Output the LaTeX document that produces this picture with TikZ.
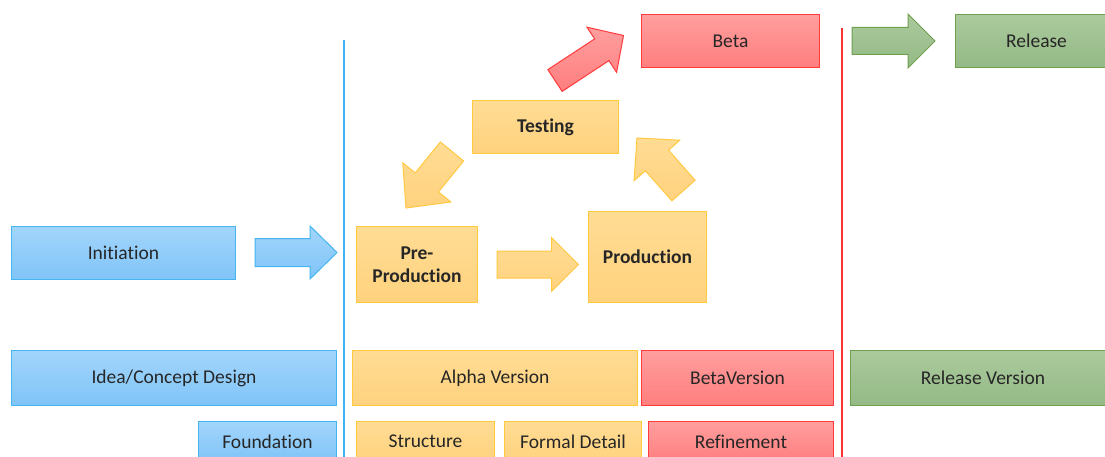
\documentclass[tikz,border=0pt]{standalone}
\usepackage{fontspec}
\setmainfont{Carlito}[Ligatures=NoCommon]
\usetikzlibrary{calc}

\definecolor{bluetop}{HTML}{A2D5FB}
\definecolor{bluebot}{HTML}{80C4F8}
\definecolor{blueedge}{HTML}{45B5F0}
\definecolor{yeltop}{HTML}{FFDC94}
\definecolor{yelbot}{HTML}{FFD27E}
\definecolor{yeledge}{HTML}{FFC940}
\definecolor{redtop}{HTML}{FF9E9E}
\definecolor{redbot}{HTML}{FF7E7E}
\definecolor{rededge}{HTML}{FF3B3B}
\definecolor{grntop}{HTML}{ABCA9D}
\definecolor{grnbot}{HTML}{94B986}
\definecolor{grnedge}{HTML}{6FA04E}
\definecolor{ink}{HTML}{262626}
\definecolor{bluerule}{HTML}{3BB4F2}
\definecolor{redrule}{HTML}{FF3030}

% block arrow: style, tail, tip, shaft half-width, head half-width, head length
\newcommand{\blockarrow}[6]{%
  \coordinate (#2-#3-hb) at ($(#3)!#6!(#2)$);
  \draw[#1] ($(#2)!#4!90:(#3)$)
    -- ($(#2-#3-hb)!#4!90:(#3)$)
    -- ($(#2-#3-hb)!#5!90:(#3)$)
    -- (#3)
    -- ($(#2-#3-hb)!#5!-90:(#3)$)
    -- ($(#2-#3-hb)!#4!-90:(#3)$)
    -- ($(#2)!#4!-90:(#3)$) -- cycle;}

\tikzset{
  phase/.style={rectangle, line width=1pt, anchor=north west, inner sep=0pt,
    text=ink, font=\fontsize{19.5}{23}\selectfont, align=center},
  bluebox/.style={phase, draw=blueedge, top color=bluetop, bottom color=bluebot},
  yelbox/.style={phase, draw=yeledge, top color=yeltop, bottom color=yelbot},
  redbox/.style={phase, draw=rededge, top color=redtop, bottom color=redbot},
  grnbox/.style={phase, draw=grnedge, top color=grntop, bottom color=grnbot},
  keybox/.style={font=\fontsize{19.5}{23}\selectfont\bfseries},
  bluearrow/.style={line width=1pt, draw=blueedge, top color=bluetop, bottom color=bluebot, line join=miter},
  yelarrow/.style={line width=1pt, draw=yeledge, top color=yeltop, bottom color=yelbot, line join=miter},
  redarrow/.style={line width=1pt, draw=rededge, top color=redtop, bottom color=redbot, line join=miter},
  grnarrow/.style={line width=1pt, draw=grnedge, top color=grntop, bottom color=grnbot, line join=miter},
}

\begin{document}
\begin{tikzpicture}[x=1pt,y=-1pt]
\useasboundingbox (0,0) rectangle (1105,457);
\clip (0,0) rectangle (1105,457);
\fill[white] (0,0) rectangle (1105,457);

% phase dividers
\coordinate (bl-top) at (344,40);
\coordinate (bl-bot) at (344,460);
\coordinate (rl-top) at (842,28);
\coordinate (rl-bot) at (842,460);
\draw[bluerule, line width=2pt] (bl-top) -- (bl-bot);
\draw[redrule, line width=2.2pt] (rl-top) -- (rl-bot);

% development cycle
\node[bluebox, minimum width=224pt, minimum height=53pt] (init) at (11,226) {Initiation};
\node[yelbox, keybox, minimum width=121pt, minimum height=76pt] (pre) at (356,226) {Pre-\\Production};
\node[yelbox, keybox, minimum width=118pt, minimum height=91pt] (prod) at (588,211) {Production};
\node[yelbox, keybox, minimum width=146pt, minimum height=53pt] (test) at (472,100) {Testing};
\node[redbox, minimum width=178pt, minimum height=53pt] (beta) at (641,14) {Beta};
\node[grnbox, minimum width=165pt, minimum height=53pt] (rel) at (955,14) {\hspace*{-3pt}Release};

% versions
\node[bluebox, minimum width=325pt, minimum height=55pt] (idea) at (11,350) {Idea/Concept Design};
\node[yelbox, minimum width=285pt, minimum height=55pt] (alpha) at (352,350) {Alpha Version};
\node[redbox, minimum width=192pt, minimum height=55pt] (betav) at (641,350) {BetaVersion};
\node[grnbox, minimum width=270pt, minimum height=55pt] (relv) at (850,350) {\hspace*{-5pt}Release Version};

% stages
\node[bluebox, minimum width=138pt, minimum height=40pt] (found) at (198,421) {Foundation};
\node[yelbox, minimum width=138pt, minimum height=40pt] (struct) at (356,421) {Structure};
\node[yelbox, minimum width=137pt, minimum height=40pt] (formal) at (504,421) {Formal Detail};
\node[redbox, minimum width=185pt, minimum height=40pt] (refine) at (648,421) {Refinement};

% block arrows between the stages
\coordinate (a1t) at (255,252.5);  \coordinate (a1h) at (337,252.5);
\coordinate (a2t) at (497,264.5);  \coordinate (a2h) at (578.5,264.5);
\coordinate (a3t) at (683.5,190.5); \coordinate (a3h) at (637,138);
\coordinate (a4t) at (452,151.5);  \coordinate (a4h) at (406,208);
\coordinate (a5t) at (555,80.5);   \coordinate (a5h) at (623.5,35.5);
\coordinate (a6t) at (852,41);     \coordinate (a6h) at (935,41);

\blockarrow{bluearrow}{a1t}{a1h}{14pt}{26.5pt}{27pt}
\blockarrow{yelarrow}{a2t}{a2h}{13.5pt}{27pt}{27pt}
\blockarrow{yelarrow}{a3t}{a3h}{15.5pt}{30.5pt}{30pt}
\blockarrow{yelarrow}{a4t}{a4h}{15pt}{31pt}{33pt}
\blockarrow{redarrow}{a5t}{a5h}{13pt}{27pt}{26pt}
\blockarrow{grnarrow}{a6t}{a6h}{13.5pt}{27pt}{27pt}
\end{tikzpicture}
\end{document}
